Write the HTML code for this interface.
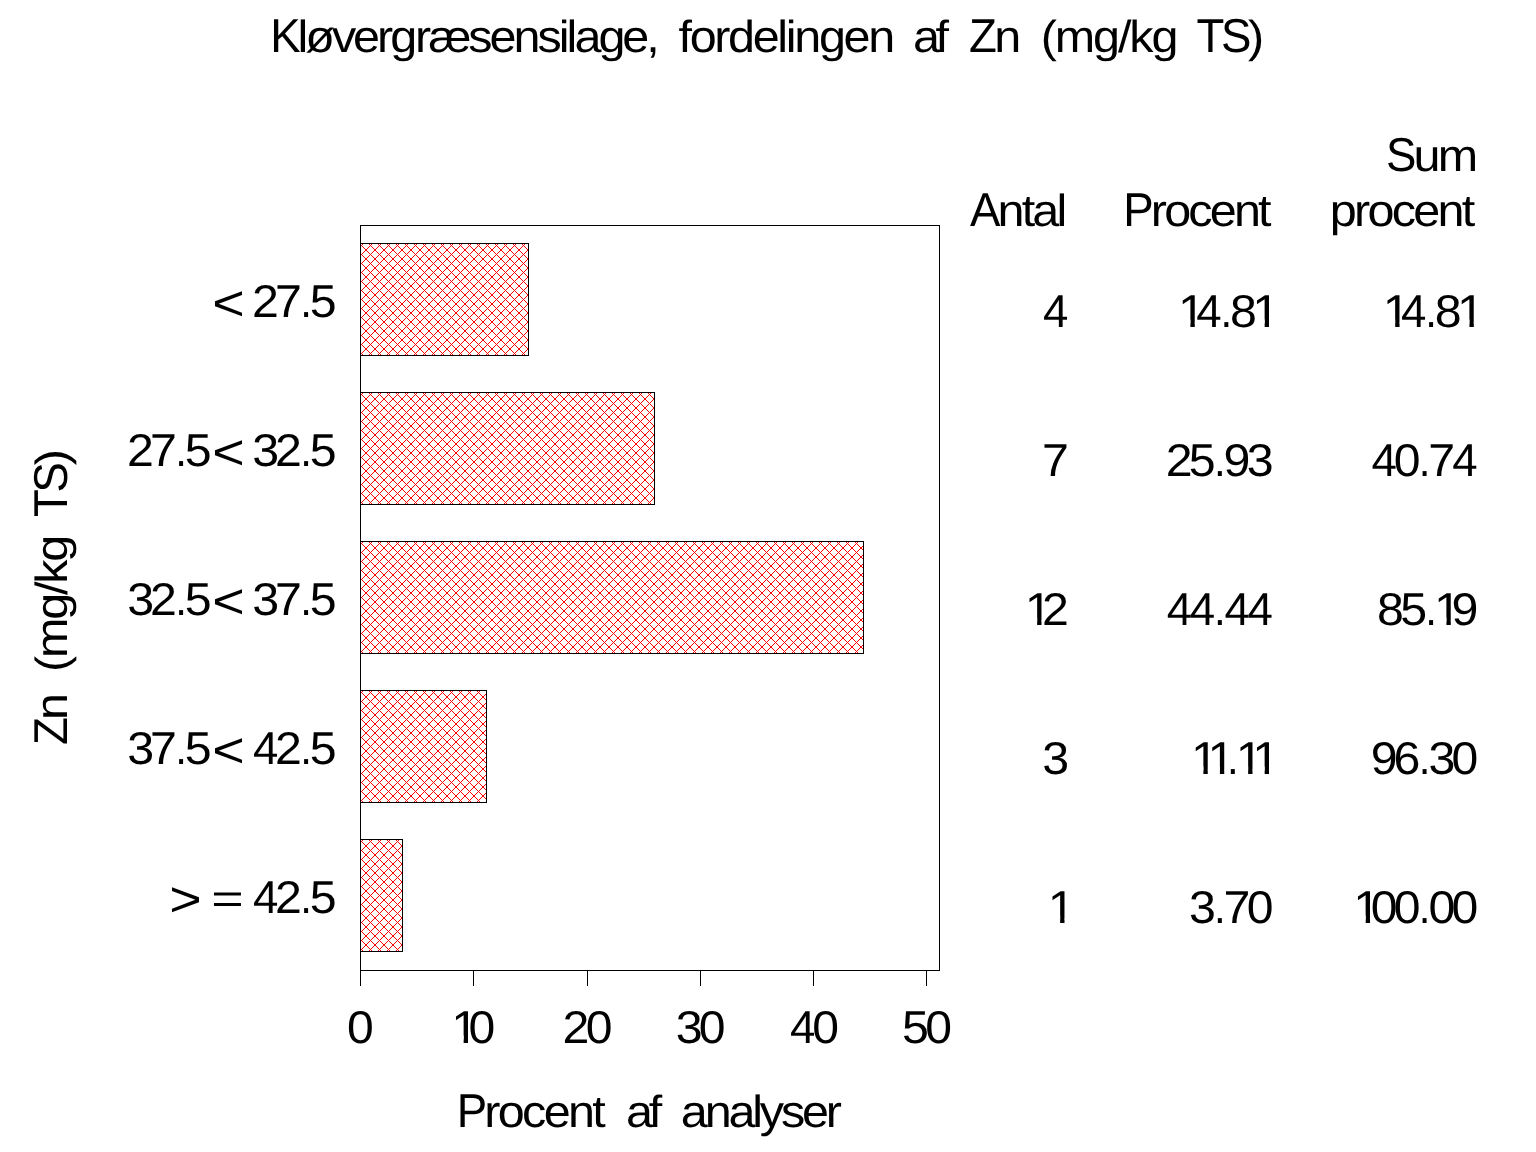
<!DOCTYPE html>
<html lang="da"><head><meta charset="utf-8"><title>Kløvergræsensilage, fordelingen af Zn (mg/kg TS)</title>
<style>
html,body{margin:0;padding:0;background:#fff;}
body{width:1536px;height:1152px;overflow:hidden;}
svg{display:block;}
text{font-family:'Liberation Sans', sans-serif;fill:#000;white-space:pre;text-rendering:geometricPrecision;font-kerning:none;}
.txt{filter:grayscale(1);}
</style></head><body>
<svg width="1536" height="1152" viewBox="0 0 1536 1152">
<rect width="1536" height="1152" fill="#fff"/>
<g shape-rendering="crispEdges">
<defs><pattern id="h" width="9" height="9" patternUnits="userSpaceOnUse"><path d="M3 0h1v1h-1zM8 0h1v1h-1zM0 1h1v1h-1zM2 1h1v1h-1zM1 2h1v1h-1zM0 3h1v1h-1zM2 3h1v1h-1zM3 4h1v1h-1zM8 4h1v1h-1zM4 5h1v1h-1zM7 5h1v1h-1zM5 6h1v1h-1zM6 6h1v1h-1zM5 7h1v1h-1zM6 7h1v1h-1zM4 8h1v1h-1zM7 8h1v1h-1z" fill="#f00"/></pattern></defs>
<g transform="translate(360,243)"><rect x="0" y="0" width="169" height="113" fill="url(#h)"/><path d="M0 0h169v113h-169z M1 1v111h167v-111z" fill="#000" fill-rule="evenodd"/></g>
<g transform="translate(360,392)"><rect x="0" y="0" width="295" height="113" fill="url(#h)"/><path d="M0 0h295v113h-295z M1 1v111h293v-111z" fill="#000" fill-rule="evenodd"/></g>
<g transform="translate(360,541)"><rect x="0" y="0" width="504" height="113" fill="url(#h)"/><path d="M0 0h504v113h-504z M1 1v111h502v-111z" fill="#000" fill-rule="evenodd"/></g>
<g transform="translate(360,690)"><rect x="0" y="0" width="127" height="113" fill="url(#h)"/><path d="M0 0h127v113h-127z M1 1v111h125v-111z" fill="#000" fill-rule="evenodd"/></g>
<g transform="translate(360,839)"><rect x="0" y="0" width="43" height="113" fill="url(#h)"/><path d="M0 0h43v113h-43z M1 1v111h41v-111z" fill="#000" fill-rule="evenodd"/></g>
<path d="M360 225h580v746h-580z M361 226v744h578v-744z" fill="#000" fill-rule="evenodd"/>
<path d="M360 970h1v16h-1zM473 970h1v16h-1zM587 970h1v16h-1zM700 970h1v16h-1zM813 970h1v16h-1zM926 970h1v16h-1z" fill="#000"/>
</g>
<g class="txt">
<defs><clipPath id="one" clipPathUnits="userSpaceOnUse"><path d="M0 -40H16.233V-4.437H15.633V1H11.567V-7.437H0z"/></clipPath></defs>
<g><text transform="scale(0.96,1)" x="281.52" y="52.00" font-size="47.5" letter-spacing="-3.181">K</text><text transform="scale(1.078,1)" x="276.09" y="52.00" font-size="45.0" letter-spacing="-2.833">løverg</text><text transform="scale(1.078,1)" x="384.95" y="52.00" font-size="45.0" letter-spacing="-2.770">ræsensilage, </text></g>
<g><text transform="scale(1.078,1)" x="629.42" y="52.00" font-size="45.0" letter-spacing="-2.171">fordelingen </text></g>
<g><text transform="scale(1.078,1)" x="846.88" y="52.00" font-size="45.0" letter-spacing="-4.144">af </text></g>
<g><text transform="scale(0.96,1)" x="1009.33" y="52.00" font-size="47.5" letter-spacing="-2.745">Z</text><text transform="scale(1.078,1)" x="922.24" y="52.00" font-size="45.0" letter-spacing="-2.445">n </text></g>
<g><text transform="scale(1.078,1)" x="965.48" y="52.00" font-size="45.0" letter-spacing="-1.970">(mg/kg </text></g>
<g><text transform="scale(0.96,1)" x="1246.43" y="52.00" font-size="47.5" letter-spacing="-3.589">TS</text><text transform="scale(1.078,1)" x="1157.66" y="52.00" font-size="45.0" letter-spacing="-3.196">) </text></g>
<g><text transform="scale(0.96,1)" x="1443.68" y="171.00" font-size="47.5" letter-spacing="-2.883">S</text><text transform="scale(1.078,1)" x="1311.30" y="171.00" font-size="45.0" letter-spacing="-2.567">um</text></g>
<g><text transform="scale(0.96,1)" x="1010.32" y="226.00" font-size="47.5" letter-spacing="-2.941">A</text><text transform="scale(1.078,1)" x="925.33" y="226.00" font-size="45.0" letter-spacing="-2.619">ntal</text></g>
<g><text transform="scale(0.96,1)" x="1170.06" y="226.00" font-size="47.5" letter-spacing="-2.941">P</text><text transform="scale(1.078,1)" x="1067.58" y="226.00" font-size="45.0" letter-spacing="-2.619">rocent</text></g>
<g><text transform="scale(1.078,1)" x="1233.56" y="226.00" font-size="45.0" letter-spacing="-2.508">procent</text></g>
<g><text transform="scale(1.1296,1)" x="187.91" y="319.70" font-size="49.2">&lt; </text><text transform="scale(1.0500,1)" x="240.07" y="317.00" font-size="46.0">2</text><text transform="scale(1.0500,1)" x="261.95" y="317.00" font-size="46.0">7</text><text transform="scale(0.9133,1)" x="328.67" y="317.00" font-size="46.0">.</text><text transform="scale(1.0500,1)" x="295.11" y="317.00" font-size="46.0">5</text></g>
<g><text transform="scale(1.0500,1)" x="121.02" y="466.00" font-size="46.0">2</text><text transform="scale(1.0500,1)" x="142.90" y="466.00" font-size="46.0">7</text><text transform="scale(0.9133,1)" x="191.80" y="466.00" font-size="46.0">.</text><text transform="scale(1.0500,1)" x="176.06" y="466.00" font-size="46.0">5</text><text transform="scale(1.1296,1)" x="187.91" y="468.70" font-size="49.2">&lt; </text><text transform="scale(1.0500,1)" x="240.20" y="466.00" font-size="46.0">3</text><text transform="scale(1.0500,1)" x="261.97" y="466.00" font-size="46.0">2</text><text transform="scale(0.9133,1)" x="328.67" y="466.00" font-size="46.0">.</text><text transform="scale(1.0500,1)" x="295.11" y="466.00" font-size="46.0">5</text></g>
<g><text transform="scale(1.0500,1)" x="121.15" y="615.00" font-size="46.0">3</text><text transform="scale(1.0500,1)" x="142.92" y="615.00" font-size="46.0">2</text><text transform="scale(0.9133,1)" x="191.80" y="615.00" font-size="46.0">.</text><text transform="scale(1.0500,1)" x="176.06" y="615.00" font-size="46.0">5</text><text transform="scale(1.1296,1)" x="187.91" y="617.70" font-size="49.2">&lt; </text><text transform="scale(1.0500,1)" x="240.20" y="615.00" font-size="46.0">3</text><text transform="scale(1.0500,1)" x="261.95" y="615.00" font-size="46.0">7</text><text transform="scale(0.9133,1)" x="328.67" y="615.00" font-size="46.0">.</text><text transform="scale(1.0500,1)" x="295.11" y="615.00" font-size="46.0">5</text></g>
<g><text transform="scale(1.0500,1)" x="121.15" y="764.00" font-size="46.0">3</text><text transform="scale(1.0500,1)" x="142.90" y="764.00" font-size="46.0">7</text><text transform="scale(0.9133,1)" x="191.80" y="764.00" font-size="46.0">.</text><text transform="scale(1.0500,1)" x="176.06" y="764.00" font-size="46.0">5</text><text transform="scale(1.1296,1)" x="187.91" y="766.70" font-size="49.2">&lt; </text><text transform="scale(0.9922,1)" x="254.93" y="764.00" font-size="46.0">4</text><text transform="scale(1.0500,1)" x="261.97" y="764.00" font-size="46.0">2</text><text transform="scale(0.9133,1)" x="328.67" y="764.00" font-size="46.0">.</text><text transform="scale(1.0500,1)" x="295.11" y="764.00" font-size="46.0">5</text></g>
<g><text transform="scale(1.1296,1)" x="149.85" y="915.70" font-size="49.2">&gt;</text><text transform="scale(1.3232,1)" x="159.68" y="913.30" font-size="42">= </text><text transform="scale(0.9922,1)" x="254.93" y="913.00" font-size="46.0">4</text><text transform="scale(1.0500,1)" x="261.97" y="913.00" font-size="46.0">2</text><text transform="scale(0.9133,1)" x="328.67" y="913.00" font-size="46.0">.</text><text transform="scale(1.0500,1)" x="295.11" y="913.00" font-size="46.0">5</text></g>
<g><text transform="scale(0.9922,1)" x="1051.10" y="327.00" font-size="46.0">4</text></g>
<g><g transform="translate(1178.01,327.00) scale(1.0707,1)" clip-path="url(#one)"><text x="0" y="0" font-size="46.0">1</text></g><text transform="scale(0.9922,1)" x="1205.55" y="327.00" font-size="46.0">4</text><text transform="scale(0.9133,1)" x="1336.32" y="327.00" font-size="46.0">.</text><text transform="scale(1.0500,1)" x="1171.49" y="327.00" font-size="46.0">8</text><g transform="translate(1252.26,327.00) scale(1.0707,1)" clip-path="url(#one)"><text x="0" y="0" font-size="46.0">1</text></g></g>
<g><g transform="translate(1382.81,327.00) scale(1.0707,1)" clip-path="url(#one)"><text x="0" y="0" font-size="46.0">1</text></g><text transform="scale(0.9922,1)" x="1411.95" y="327.00" font-size="46.0">4</text><text transform="scale(0.9133,1)" x="1560.57" y="327.00" font-size="46.0">.</text><text transform="scale(1.0500,1)" x="1366.54" y="327.00" font-size="46.0">8</text><g transform="translate(1457.06,327.00) scale(1.0707,1)" clip-path="url(#one)"><text x="0" y="0" font-size="46.0">1</text></g></g>
<g><text transform="scale(1.0500,1)" x="992.42" y="476.00" font-size="46.0">7</text></g>
<g><text transform="scale(1.0500,1)" x="1110.30" y="476.00" font-size="46.0">2</text><text transform="scale(1.0500,1)" x="1132.25" y="476.00" font-size="46.0">5</text><text transform="scale(0.9133,1)" x="1329.20" y="476.00" font-size="46.0">.</text><text transform="scale(1.0500,1)" x="1165.31" y="476.00" font-size="46.0">9</text><text transform="scale(1.0500,1)" x="1187.34" y="476.00" font-size="46.0">3</text></g>
<g><text transform="scale(0.9922,1)" x="1382.22" y="476.00" font-size="46.0">4</text><text transform="scale(1.0460,1)" x="1332.43" y="476.00" font-size="46.0">0</text><text transform="scale(0.9133,1)" x="1553.45" y="476.00" font-size="46.0">.</text><text transform="scale(1.0500,1)" x="1360.33" y="476.00" font-size="46.0">7</text><text transform="scale(0.9922,1)" x="1463.60" y="476.00" font-size="46.0">4</text></g>
<g><g transform="translate(1024.76,625.00) scale(1.0707,1)" clip-path="url(#one)"><text x="0" y="0" font-size="46.0">1</text></g><text transform="scale(1.0500,1)" x="992.45" y="625.00" font-size="46.0">2</text></g>
<g><text transform="scale(0.9922,1)" x="1175.82" y="625.00" font-size="46.0">4</text><text transform="scale(0.9922,1)" x="1199.00" y="625.00" font-size="46.0">4</text><text transform="scale(0.9133,1)" x="1329.20" y="625.00" font-size="46.0">.</text><text transform="scale(0.9922,1)" x="1234.02" y="625.00" font-size="46.0">4</text><text transform="scale(0.9922,1)" x="1257.20" y="625.00" font-size="46.0">4</text></g>
<g><text transform="scale(1.0500,1)" x="1311.54" y="625.00" font-size="46.0">8</text><text transform="scale(1.0500,1)" x="1333.49" y="625.00" font-size="46.0">5</text><text transform="scale(0.9133,1)" x="1560.57" y="625.00" font-size="46.0">.</text><g transform="translate(1434.06,625.00) scale(1.0707,1)" clip-path="url(#one)"><text x="0" y="0" font-size="46.0">1</text></g><text transform="scale(1.0500,1)" x="1382.27" y="625.00" font-size="46.0">9</text></g>
<g><text transform="scale(1.0500,1)" x="992.58" y="774.00" font-size="46.0">3</text></g>
<g><g transform="translate(1191.01,774.00) scale(1.0707,1)" clip-path="url(#one)"><text x="0" y="0" font-size="46.0">1</text></g><g transform="translate(1207.51,774.00) scale(1.0707,1)" clip-path="url(#one)"><text x="0" y="0" font-size="46.0">1</text></g><text transform="scale(0.9133,1)" x="1343.43" y="774.00" font-size="46.0">.</text><g transform="translate(1235.76,774.00) scale(1.0707,1)" clip-path="url(#one)"><text x="0" y="0" font-size="46.0">1</text></g><g transform="translate(1252.26,774.00) scale(1.0707,1)" clip-path="url(#one)"><text x="0" y="0" font-size="46.0">1</text></g></g>
<g><text transform="scale(1.0500,1)" x="1305.36" y="774.00" font-size="46.0">9</text><text transform="scale(1.0500,1)" x="1327.10" y="774.00" font-size="46.0">6</text><text transform="scale(0.9133,1)" x="1553.45" y="774.00" font-size="46.0">.</text><text transform="scale(1.0500,1)" x="1360.49" y="774.00" font-size="46.0">3</text><text transform="scale(1.0460,1)" x="1387.64" y="774.00" font-size="46.0">0</text></g>
<g><g transform="translate(1047.76,923.00) scale(1.0707,1)" clip-path="url(#one)"><text x="0" y="0" font-size="46.0">1</text></g></g>
<g><text transform="scale(1.0500,1)" x="1132.34" y="923.00" font-size="46.0">3</text><text transform="scale(0.9133,1)" x="1329.20" y="923.00" font-size="46.0">.</text><text transform="scale(1.0500,1)" x="1165.28" y="923.00" font-size="46.0">7</text><text transform="scale(1.0460,1)" x="1191.84" y="923.00" font-size="46.0">0</text></g>
<g><g transform="translate(1353.31,923.00) scale(1.0707,1)" clip-path="url(#one)"><text x="0" y="0" font-size="46.0">1</text></g><text transform="scale(1.0460,1)" x="1310.44" y="923.00" font-size="46.0">0</text><text transform="scale(1.0460,1)" x="1332.43" y="923.00" font-size="46.0">0</text><text transform="scale(0.9133,1)" x="1553.45" y="923.00" font-size="46.0">.</text><text transform="scale(1.0460,1)" x="1365.65" y="923.00" font-size="46.0">0</text><text transform="scale(1.0460,1)" x="1387.64" y="923.00" font-size="46.0">0</text></g>
<g><text transform="scale(1.0460,1)" x="331.87" y="1043.00" font-size="46.0">0</text></g>
<g><g transform="translate(451.26,1043.00) scale(1.0707,1)" clip-path="url(#one)"><text x="0" y="0" font-size="46.0">1</text></g><text transform="scale(1.0460,1)" x="448.03" y="1043.00" font-size="46.0">0</text></g>
<g><text transform="scale(1.0500,1)" x="535.78" y="1043.00" font-size="46.0">2</text><text transform="scale(1.0460,1)" x="559.89" y="1043.00" font-size="46.0">0</text></g>
<g><text transform="scale(1.0500,1)" x="643.53" y="1043.00" font-size="46.0">3</text><text transform="scale(1.0460,1)" x="667.92" y="1043.00" font-size="46.0">0</text></g>
<g><text transform="scale(0.9922,1)" x="796.12" y="1043.00" font-size="46.0">4</text><text transform="scale(1.0460,1)" x="776.43" y="1043.00" font-size="46.0">0</text></g>
<g><text transform="scale(1.0500,1)" x="859.16" y="1043.00" font-size="46.0">5</text><text transform="scale(1.0460,1)" x="884.47" y="1043.00" font-size="46.0">0</text></g>
<g><text transform="scale(0.96,1)" x="475.69" y="1127.00" font-size="47.5" letter-spacing="-2.820">P</text><text transform="scale(1.078,1)" x="449.32" y="1127.00" font-size="45.0" letter-spacing="-2.511">rocent </text></g>
<g><text transform="scale(1.078,1)" x="580.65" y="1127.00" font-size="45.0" letter-spacing="-3.865">af </text></g>
<g><text transform="scale(1.078,1)" x="631.58" y="1127.00" font-size="45.0" letter-spacing="-2.941">analyser</text></g>
<g><text transform="rotate(-90) scale(0.96,1)" x="-775.99" y="67.00" font-size="47.5" letter-spacing="-3.110">Z</text><text transform="rotate(-90) scale(1.078,1)" x="-667.98" y="67.00" font-size="45.0" letter-spacing="-2.770">n </text></g>
<g><text transform="rotate(-90) scale(1.078,1)" x="-623.29" y="67.00" font-size="45.0" letter-spacing="-2.063">(mg/kg </text></g>
<g><text transform="rotate(-90) scale(0.96,1)" x="-538.57" y="67.00" font-size="47.5" letter-spacing="-3.433">TS</text><text transform="rotate(-90) scale(1.078,1)" x="-431.68" y="67.00" font-size="45.0" letter-spacing="-3.057">)</text></g>
</g>
</svg>
</body></html>
